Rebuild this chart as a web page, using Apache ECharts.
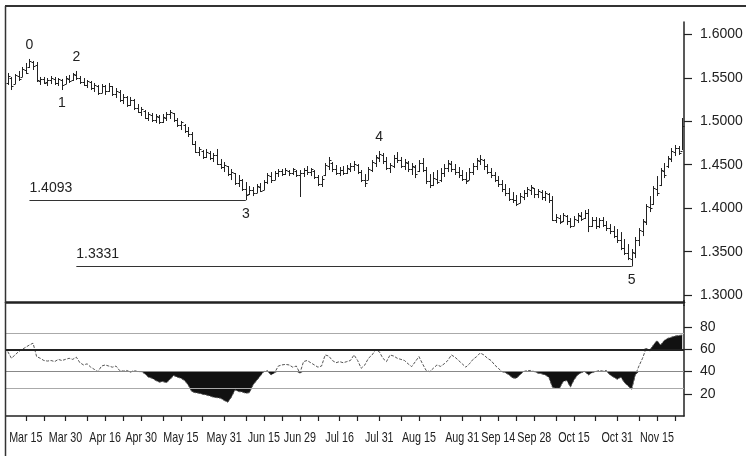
<!DOCTYPE html>
<html><head><meta charset="utf-8">
<script src="https://cdn.jsdelivr.net/npm/echarts@6/dist/echarts.min.js"></script>
<style>html,body{margin:0;padding:0;background:#fff}#c{width:746px;height:456px}</style>
</head><body><div id="c"></div>
<script>
const dates = [
'Mar 8','Mar 9','Mar 12','Mar 13','Mar 14','Mar 15','Mar 16','Mar 19','Mar 20','Mar 21','Mar 22','Mar 23','Mar 26','Mar 27','Mar 28','Mar 29','Mar 30',
'Apr 2','Apr 3','Apr 4','Apr 5','Apr 6','Apr 9','Apr 10','Apr 11','Apr 12','Apr 13','Apr 16','Apr 17','Apr 18','Apr 19','Apr 20','Apr 23','Apr 24','Apr 25','Apr 26','Apr 27','Apr 30',
'May 1','May 2','May 3','May 4','May 7','May 8','May 9','May 10','May 11','May 14','May 15','May 16','May 17','May 18','May 21','May 22','May 23','May 24','May 25','May 28','May 29','May 30','May 31',
'Jun 1','Jun 4','Jun 5','Jun 6','Jun 7','Jun 8','Jun 11','Jun 12','Jun 13','Jun 14','Jun 15','Jun 18','Jun 19','Jun 20','Jun 21','Jun 22','Jun 25','Jun 26','Jun 27','Jun 28','Jun 29',
'Jul 2','Jul 3','Jul 4','Jul 5','Jul 6','Jul 9','Jul 10','Jul 11','Jul 12','Jul 13','Jul 16','Jul 17','Jul 18','Jul 19','Jul 20','Jul 23','Jul 24','Jul 25','Jul 26','Jul 27','Jul 30','Jul 31',
'Aug 1','Aug 2','Aug 3','Aug 6','Aug 7','Aug 8','Aug 9','Aug 10','Aug 13','Aug 14','Aug 15','Aug 16','Aug 17','Aug 20','Aug 21','Aug 22','Aug 23','Aug 24','Aug 27','Aug 28','Aug 29','Aug 30','Aug 31',
'Sep 3','Sep 4','Sep 5','Sep 6','Sep 7','Sep 10','Sep 11','Sep 12','Sep 13','Sep 14','Sep 17','Sep 18','Sep 19','Sep 20','Sep 21','Sep 24','Sep 25','Sep 26','Sep 27','Sep 28',
'Oct 1','Oct 2','Oct 3','Oct 4','Oct 5','Oct 8','Oct 9','Oct 10','Oct 11','Oct 12','Oct 15','Oct 16','Oct 17','Oct 18','Oct 19','Oct 22','Oct 23','Oct 24','Oct 25','Oct 26','Oct 29','Oct 30','Oct 31',
'Nov 1','Nov 2','Nov 5','Nov 6','Nov 7','Nov 8','Nov 9','Nov 12','Nov 13','Nov 14','Nov 15','Nov 16','Nov 19','Nov 20','Nov 21','Nov 22','Nov 23','Nov 26'];

const open = [1.5440,1.5500,1.5430,1.5520,1.5510,1.5590,1.5620,1.5680,1.5650,1.5460,
1.5480,1.5450,1.5470,1.5490,1.5440,1.5470,1.5430,1.5490,1.5470,1.5530,
1.5500,1.5450,1.5420,1.5450,1.5380,1.5410,1.5330,1.5400,1.5350,1.5400,
1.5310,1.5340,1.5240,1.5280,1.5190,1.5250,1.5150,1.5110,1.5120,1.5040,
1.5070,1.5010,1.5050,1.4990,1.5040,1.5080,1.5090,1.5010,1.4960,1.4960,
1.4890,1.4850,1.4740,1.4650,1.4660,1.4590,1.4640,1.4580,1.4610,1.4510,
1.4470,1.4480,1.4390,1.4400,1.4290,1.4320,1.4220,1.4160,1.4210,1.4180,
1.4240,1.4210,1.4300,1.4370,1.4330,1.4400,1.4430,1.4390,1.4430,1.4400,
1.4430,1.4380,1.4400,1.4440,1.4420,1.4430,1.4360,1.4280,1.4380,1.4490,
1.4520,1.4450,1.4410,1.4440,1.4400,1.4450,1.4480,1.4500,1.4420,1.4330,
1.4330,1.4440,1.4520,1.4580,1.4610,1.4540,1.4460,1.4490,1.4580,1.4550,
1.4490,1.4520,1.4450,1.4470,1.4430,1.4520,1.4440,1.4310,1.4270,1.4340,
1.4320,1.4400,1.4460,1.4510,1.4450,1.4420,1.4380,1.4340,1.4330,1.4420,
1.4480,1.4540,1.4560,1.4480,1.4420,1.4380,1.4330,1.4280,1.4220,1.4170,
1.4110,1.4090,1.4060,1.4130,1.4170,1.4210,1.4230,1.4160,1.4190,1.4130,
1.4160,1.4100,1.3870,1.3890,1.3850,1.3910,1.3850,1.3800,1.3870,1.3910,
1.3890,1.3950,1.3800,1.3870,1.3800,1.3860,1.3810,1.3770,1.3740,1.3680,
1.3640,1.3540,1.3490,1.3420,1.3480,1.3630,1.3740,1.3840,1.4010,1.4050,
1.4220,1.4270,1.4430,1.4480,1.4570,1.4650,1.4690,1.4660];

const high = [1.5555,1.5509,1.5543,1.5578,1.5624,1.5670,1.5716,1.5693,1.5681,1.5509,
1.5509,1.5497,1.5520,1.5509,1.5497,1.5486,1.5520,1.5532,1.5555,1.5578,
1.5520,1.5497,1.5474,1.5463,1.5440,1.5417,1.5428,1.5417,1.5440,1.5405,
1.5382,1.5359,1.5313,1.5290,1.5279,1.5256,1.5198,1.5164,1.5129,1.5106,
1.5095,1.5083,1.5072,1.5083,1.5106,1.5129,1.5095,1.5037,1.5003,1.4968,
1.4934,1.4876,1.4773,1.4704,1.4669,1.4681,1.4658,1.4635,1.4681,1.4566,
1.4531,1.4485,1.4451,1.4405,1.4382,1.4336,1.4301,1.4255,1.4244,1.4278,
1.4290,1.4324,1.4405,1.4416,1.4428,1.4451,1.4451,1.4462,1.4439,1.4462,
1.4439,1.4439,1.4462,1.4485,1.4462,1.4439,1.4382,1.4370,1.4520,1.4589,
1.4531,1.4497,1.4474,1.4485,1.4497,1.4520,1.4543,1.4508,1.4439,1.4393,
1.4474,1.4554,1.4612,1.4658,1.4635,1.4589,1.4520,1.4612,1.4646,1.4589,
1.4566,1.4543,1.4520,1.4497,1.4554,1.4577,1.4474,1.4393,1.4416,1.4439,
1.4462,1.4508,1.4554,1.4543,1.4508,1.4474,1.4439,1.4416,1.4462,1.4520,
1.4577,1.4612,1.4566,1.4508,1.4462,1.4416,1.4370,1.4324,1.4278,1.4232,
1.4186,1.4152,1.4175,1.4209,1.4244,1.4267,1.4232,1.4221,1.4209,1.4198,
1.4175,1.4140,1.3933,1.3922,1.3945,1.3922,1.3887,1.3910,1.3945,1.3956,
1.3979,1.3991,1.3899,1.3899,1.3887,1.3899,1.3853,1.3818,1.3795,1.3761,
1.3726,1.3646,1.3588,1.3531,1.3669,1.3772,1.3876,1.4048,1.4140,1.4255,
1.4370,1.4462,1.4520,1.4600,1.4692,1.4727,1.4715,1.5037];

const low = [1.5417,1.5359,1.5428,1.5463,1.5509,1.5543,1.5612,1.5589,1.5451,1.5417,
1.5428,1.5405,1.5428,1.5417,1.5405,1.5359,1.5428,1.5440,1.5463,1.5474,
1.5428,1.5405,1.5382,1.5359,1.5336,1.5302,1.5325,1.5302,1.5336,1.5290,
1.5267,1.5221,1.5198,1.5164,1.5175,1.5129,1.5095,1.5060,1.5026,1.5003,
1.4991,1.4980,1.4968,1.4980,1.5003,1.5026,1.4991,1.4934,1.4899,1.4865,
1.4819,1.4727,1.4635,1.4600,1.4566,1.4577,1.4554,1.4531,1.4497,1.4451,
1.4416,1.4370,1.4324,1.4267,1.4244,1.4198,1.4093,1.4152,1.4140,1.4175,
1.4186,1.4209,1.4278,1.4290,1.4324,1.4359,1.4370,1.4382,1.4370,1.4382,
1.4359,1.4129,1.4359,1.4382,1.4370,1.4336,1.4255,1.4244,1.4370,1.4439,
1.4416,1.4382,1.4370,1.4382,1.4393,1.4416,1.4428,1.4393,1.4301,1.4244,
1.4324,1.4416,1.4474,1.4531,1.4508,1.4439,1.4405,1.4462,1.4520,1.4462,
1.4439,1.4416,1.4382,1.4347,1.4416,1.4416,1.4278,1.4232,1.4255,1.4278,
1.4301,1.4359,1.4416,1.4416,1.4382,1.4347,1.4313,1.4278,1.4324,1.4382,
1.4439,1.4497,1.4439,1.4393,1.4347,1.4301,1.4244,1.4186,1.4140,1.4083,
1.4060,1.4025,1.4060,1.4094,1.4129,1.4152,1.4117,1.4117,1.4094,1.4083,
1.4060,1.3853,1.3830,1.3818,1.3841,1.3807,1.3772,1.3795,1.3830,1.3853,
1.3876,1.3726,1.3784,1.3761,1.3772,1.3784,1.3738,1.3703,1.3657,1.3600,
1.3519,1.3462,1.3404,1.3331,1.3427,1.3565,1.3680,1.3807,1.3956,1.4037,
1.4140,1.4255,1.4347,1.4462,1.4531,1.4600,1.4612,1.4669];

const close = [1.5520,1.5400,1.5530,1.5490,1.5600,1.5560,1.5690,1.5640,1.5470,1.5490,
1.5440,1.5470,1.5500,1.5440,1.5480,1.5420,1.5500,1.5460,1.5540,1.5500,
1.5450,1.5420,1.5460,1.5380,1.5420,1.5330,1.5400,1.5350,1.5410,1.5310,
1.5350,1.5240,1.5280,1.5190,1.5250,1.5150,1.5110,1.5140,1.5040,1.5080,
1.5010,1.5060,1.4990,1.5050,1.5080,1.5110,1.5010,1.4960,1.4990,1.4890,
1.4850,1.4740,1.4650,1.4680,1.4590,1.4650,1.4580,1.4610,1.4510,1.4470,
1.4500,1.4390,1.4420,1.4290,1.4330,1.4220,1.4150,1.4210,1.4170,1.4250,
1.4200,1.4300,1.4380,1.4320,1.4410,1.4430,1.4390,1.4440,1.4400,1.4450,
1.4380,1.4400,1.4440,1.4420,1.4450,1.4360,1.4280,1.4340,1.4500,1.4560,
1.4450,1.4410,1.4440,1.4400,1.4460,1.4480,1.4510,1.4420,1.4330,1.4290,
1.4450,1.4530,1.4590,1.4620,1.4540,1.4460,1.4500,1.4580,1.4550,1.4490,
1.4530,1.4450,1.4480,1.4390,1.4520,1.4440,1.4310,1.4270,1.4350,1.4300,
1.4400,1.4460,1.4520,1.4450,1.4420,1.4380,1.4340,1.4310,1.4420,1.4480,
1.4550,1.4570,1.4480,1.4420,1.4380,1.4330,1.4280,1.4220,1.4180,1.4110,
1.4090,1.4050,1.4140,1.4180,1.4220,1.4240,1.4160,1.4200,1.4130,1.4170,
1.4100,1.3870,1.3900,1.3840,1.3920,1.3850,1.3800,1.3880,1.3920,1.3880,
1.3950,1.3800,1.3870,1.3800,1.3860,1.3810,1.3770,1.3740,1.3680,1.3630,
1.3540,1.3490,1.3430,1.3500,1.3640,1.3750,1.3850,1.4020,1.4000,1.4230,
1.4180,1.4440,1.4380,1.4580,1.4660,1.4690,1.4640,1.4950];

const rsi = [58,52,55,58,60,62,64,65.6,53.5,52,
50,49.5,50,49,51,50,51,52,51,53,
48,46,47,44,42,40,45,46,45,44,
45,41,40.5,41,39.5,41,40,40,38,35,
34,32,30.5,31,30,33,36.4,35,34,32,
28,22,21,20.5,19.5,19,18,17,16.5,16,
14,12.4,17,23.5,22,21.6,20.5,21,28,32,
36,40,41,37,39,45,46,46.5,46,44,
45,38.6,49,50,48,46,44,45,55,54,
50,48,49,48,49,50,55,50,43,46,
52,55,59.6,58,52,49,55,54,52,51,
50,47,44.5,49,53.5,47,41,40,43,46,
44.7,47,50,55,53,50,47,44,47,51,
53.5,56.8,55,52,50,46,43,40,39,37,
34.3,34,37,40,41,41,40,38.6,38,37,
35,26,25,25,31,32,26,32.5,37,39,
40,37,39,40,41,40.5,41,37,35,33,
35,30,27,24,37,45,52,61,58,64,
68,64,68,70,71,72,72.5,73];

const labelDates = ['Mar 15','Mar 30','Apr 16','Apr 30','May 15','May 31','Jun 15','Jun 29','Jul 16','Jul 31','Aug 15','Aug 31','Sep 14','Sep 28','Oct 15','Oct 31','Nov 15'];
const minorTickDates = ['Mar 22','Apr 9','Apr 23','May 8','May 23','Jun 8','Jun 22','Jul 6','Jul 23','Aug 8','Aug 23','Sep 7','Sep 21','Oct 8','Oct 23','Nov 8','Nov 22'];
const priceTicks = [1.30,1.35,1.40,1.45,1.50,1.55,1.60];
const rsiTicks = [20,40,60,80];
const rsiLevels = [75,60,40,25];
const rsiLow = 40, rsiHigh = 60;
const hiFillFrom = 'Oct 31';
const waveNames = ['0','1','2','3','4','5'];
const waveDates = ['Mar 16','Mar 29','Apr 4','Jun 8','Jul 31','Nov 6'];
const waveSide = ['high','low','high','low','high','low'];
const levelValues = [1.4093, 1.3331];
const levelFrom = [5.9, 18.6];
const levelToDates = ['Jun 8','Nov 6'];

const FONT = '"Liberation Sans", Arial, sans-serif';
const tickSet = new Set(labelDates.concat(minorTickDates));
const ohlc = dates.map((d, i) => [i, open[i], high[i], low[i], close[i]]);
const fillFromIdx = dates.indexOf(hiFillFrom);

function renderOHLC(params, api) {
  const i = api.value(0);
  const h = api.coord([i, api.value(2)]);
  const l = api.coord([i, api.value(3)]);
  const o = api.coord([i, api.value(1)]);
  const c = api.coord([i, api.value(4)]);
  const x = Math.round(h[0]) + 0.5;
  const w = 2;
  const style = { stroke: '#222', lineWidth: 1 };
  return { type: 'group', children: [
    { type: 'line', shape: { x1: x, y1: h[1], x2: x, y2: l[1] }, style },
    { type: 'line', shape: { x1: x - w, y1: Math.round(o[1]) + 0.5, x2: x, y2: Math.round(o[1]) + 0.5 }, style },
    { type: 'line', shape: { x1: x, y1: Math.round(c[1]) + 0.5, x2: x + w, y2: Math.round(c[1]) + 0.5 }, style }
  ]};
}

const waveData = waveNames.map((n, k) => {
  const idx = dates.indexOf(waveDates[k]);
  const v = waveSide[k] === 'high' ? high[idx] : low[idx];
  return { name: n, coord: [idx, v], label: { position: waveSide[k] === 'high' ? 'top' : 'bottom' } };
});
const levelLines = levelValues.map((v, k) => [
  { name: v.toFixed(4), coord: [levelFrom[k], v] },
  { coord: [dates.indexOf(levelToDates[k]), v] }
]);
const levelStyles = [
  { color: '#aaa', width: 1 }, { color: '#222', width: 2 }, { color: '#888', width: 1 }, { color: '#aaa', width: 1 }
];

const chart = echarts.init(document.getElementById('c'), null, { renderer: 'canvas' });
chart.setOption({
  animation: false,
  backgroundColor: '#fff',
  grid: [
    { left: 6, right: 62, top: 22, height: 280 },
    { left: 6, right: 62, top: 305, height: 111 }
  ],
  xAxis: [
    { type: 'category', gridIndex: 0, data: dates,
      axisLine: { show: true, lineStyle: { color: '#222', width: 2.5 } },
      axisTick: { show: false }, axisLabel: { show: false }, splitLine: { show: false } },
    { type: 'category', gridIndex: 1, data: dates,
      axisLine: { show: true, lineStyle: { color: '#222', width: 1.5 } },
      axisTick: { show: true, alignWithLabel: true, length: 5, interval: (i, v) => tickSet.has(v), lineStyle: { color: '#222', width: 1.2 } },
      axisLabel: { show: false },
      splitLine: { show: false } }
  ],
  yAxis: [
    { type: 'value', gridIndex: 0, position: 'right', min: 1.2922, max: 1.6141, scale: true,
      axisLine: { show: true, lineStyle: { color: '#222', width: 1.5 } },
      axisTick: { show: true, length: 8, customValues: priceTicks, lineStyle: { color: '#222', width: 1.2 } },
      axisLabel: { show: true, customValues: priceTicks, formatter: v => v.toFixed(4), fontFamily: FONT, fontSize: 14, color: '#222', margin: 16 },
      splitLine: { show: false } },
    { type: 'value', gridIndex: 1, position: 'right', min: 0, max: 100,
      axisLine: { show: true, lineStyle: { color: '#222', width: 1.5 } },
      axisTick: { show: true, length: 8, customValues: rsiTicks, lineStyle: { color: '#222', width: 1.2 } },
      axisLabel: { show: true, customValues: rsiTicks, fontFamily: FONT, fontSize: 14, color: '#222', margin: 16 },
      splitLine: { show: false } }
  ],
  series: [
    { type: 'custom', xAxisIndex: 0, yAxisIndex: 0, data: ohlc, renderItem: renderOHLC,
      encode: { x: 0, y: [1, 2, 3, 4] }, clip: false, z: 3,
      markPoint: { symbol: 'circle', symbolSize: 1, silent: true,
        itemStyle: { color: 'rgba(0,0,0,0)' },
        label: { show: true, formatter: '{b}', distance: 6, fontFamily: FONT, fontSize: 14, color: '#222' },
        data: waveData },
      markLine: { symbol: 'none', silent: true,
        lineStyle: { color: '#333', width: 1.2, type: 'solid' },
        label: { show: true, position: 'insideStartTop', formatter: '{b}', distance: [0, 5], fontFamily: FONT, fontSize: 14, color: '#222' },
        data: levelLines }
    },
    { type: 'line', xAxisIndex: 1, yAxisIndex: 1, data: rsi.map(() => null), silent: true, z: 1,
      markLine: { symbol: 'none', silent: true, label: { show: false },
        data: rsiLevels.map((v, k) => ({ yAxis: v, lineStyle: Object.assign({ type: 'solid' }, levelStyles[k]) })) } },
    { type: 'line', xAxisIndex: 1, yAxisIndex: 1, data: rsi.map(v => Math.min(v, rsiLow)), symbol: 'none', silent: true, z: 2,
      lineStyle: { width: 0 }, areaStyle: { color: '#111', opacity: 1, origin: rsiLow } },
    { type: 'line', xAxisIndex: 1, yAxisIndex: 1, data: rsi.map((v, i) => i >= fillFromIdx ? Math.max(v, rsiHigh) : rsiHigh), symbol: 'none', silent: true, z: 2,
      lineStyle: { width: 0 }, areaStyle: { color: '#111', opacity: 1, origin: rsiHigh } },
    { type: 'line', xAxisIndex: 1, yAxisIndex: 1, data: rsi, symbol: 'none', silent: true, z: 4,
      lineStyle: { color: '#555', width: 1, type: [3, 1.5] } }
  ]
});

// Condensed date labels placed through the x axis scale
const dateLabels = labelDates.map(d => {
  const p = chart.convertToPixel({ gridIndex: 1 }, [dates.indexOf(d), 0]);
  return { type: 'text', silent: true, z: 10, x: p[0], y: p[1] + 14, scaleX: 0.74,
    style: { text: d, fontFamily: FONT, fontSize: 14.5, fill: '#222', align: 'center', verticalAlign: 'top' } };
});
chart.setOption({
  graphic: [
    { type: 'line', silent: true, z: 10, shape: { x1: 5, y1: 6, x2: 746, y2: 6 }, style: { stroke: '#333', lineWidth: 2 } },
    { type: 'line', silent: true, z: 10, shape: { x1: 5.5, y1: 6, x2: 5.5, y2: 456 }, style: { stroke: '#333', lineWidth: 1.5 } },
    { type: 'line', silent: true, z: 10, shape: { x1: 684, y1: 300, x2: 684, y2: 306 }, style: { stroke: '#222', lineWidth: 1.5 } }
  ].concat(dateLabels)
});
</script>
</body></html>
